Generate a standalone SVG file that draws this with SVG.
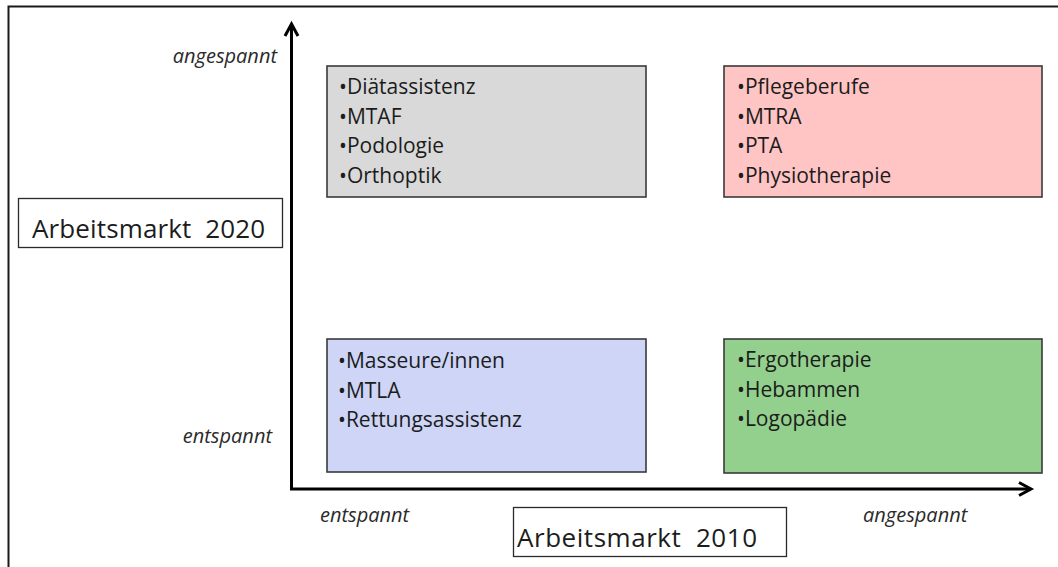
<svg xmlns="http://www.w3.org/2000/svg" width="1058" height="567" viewBox="0 0 1058 567">
<style>
.box{stroke:#3a3a3a;stroke-width:1.6}
.item{font-family:"Open Sans","Liberation Sans",sans-serif;font-size:21px;fill:#1c1c1c}
.lab{font-family:"Open Sans","Liberation Sans",sans-serif;font-size:20px;font-style:italic;fill:#2a2a2a}
.title{font-family:"Open Sans","Liberation Sans",sans-serif;font-size:26px;fill:#1c1c1c}
.axis{stroke:#000;stroke-width:3;fill:none}
</style>
<defs>
<marker id="arr" markerUnits="userSpaceOnUse" orient="auto" refX="0" refY="0" markerWidth="30" markerHeight="30" viewBox="-15 -15 30 30" overflow="visible">
<path d="M-12,-6.5 L0,0 L-12,6.5" fill="none" stroke="#000" stroke-width="3" stroke-linejoin="miter"/>
</marker>
</defs>
<rect width="1058" height="567" fill="#fff"/>
<rect x="8.5" y="6.5" width="1070" height="580" fill="none" stroke="#1a1a1a" stroke-width="2"/>
<g id="connectors">
<line class="axis" x1="291.5" y1="490" x2="291.5" y2="24" marker-end="url(#arr)"/>
<line class="axis" x1="290" y1="489" x2="1031" y2="489" marker-end="url(#arr)"/>
</g>
<g id="label-y-top"><text class="lab" x="277" y="63" text-anchor="end">angespannt</text></g>
<g id="label-y-bottom"><text class="lab" x="272" y="443" text-anchor="end">entspannt</text></g>
<g id="label-x-left"><text class="lab" x="320" y="522">entspannt</text></g>
<g id="label-x-right"><text class="lab" x="863" y="522">angespannt</text></g>
<g id="title-2020">
<rect x="18.5" y="198.5" width="264" height="49" fill="#fff" stroke="#2a2a2a" stroke-width="1.3"/>
<text class="title" x="32" y="238" textLength="233" xml:space="preserve">Arbeitsmarkt  2020</text>
</g>
<g id="title-2010">
<rect x="513.5" y="507.5" width="273" height="49" fill="#fff" stroke="#2a2a2a" stroke-width="1.3"/>
<text class="title" x="517" y="547" textLength="240" xml:space="preserve">Arbeitsmarkt  2010</text>
</g>
<g id="box-gray">
<rect class="box" x="327" y="66" width="319" height="131" fill="#d9d9d9"/>
<text class="item" x="339" y="94">•Diätassistenz</text>
<text class="item" x="339" y="123.5">•MTAF</text>
<text class="item" x="339" y="153">•Podologie</text>
<text class="item" x="339" y="182.5">•Orthoptik</text>
</g>
<g id="box-pink">
<rect class="box" x="724" y="66" width="318" height="131" fill="#ffc5c5"/>
<text class="item" x="737" y="94">•Pflegeberufe</text>
<text class="item" x="737" y="123.5">•MTRA</text>
<text class="item" x="737" y="153">•PTA</text>
<text class="item" x="737" y="182.5">•Physiotherapie</text>
</g>
<g id="box-blue">
<rect class="box" x="327" y="339" width="319" height="133" fill="#ced5f7"/>
<text class="item" x="338" y="368">•Masseure/innen</text>
<text class="item" x="338" y="397.5">•MTLA</text>
<text class="item" x="338" y="427">•Rettungsassistenz</text>
</g>
<g id="box-green">
<rect class="box" x="724" y="339" width="318" height="134" fill="#93d08d"/>
<text class="item" x="737" y="367">•Ergotherapie</text>
<text class="item" x="737" y="396.5">•Hebammen</text>
<text class="item" x="737" y="426">•Logopädie</text>
</g>
</svg>
